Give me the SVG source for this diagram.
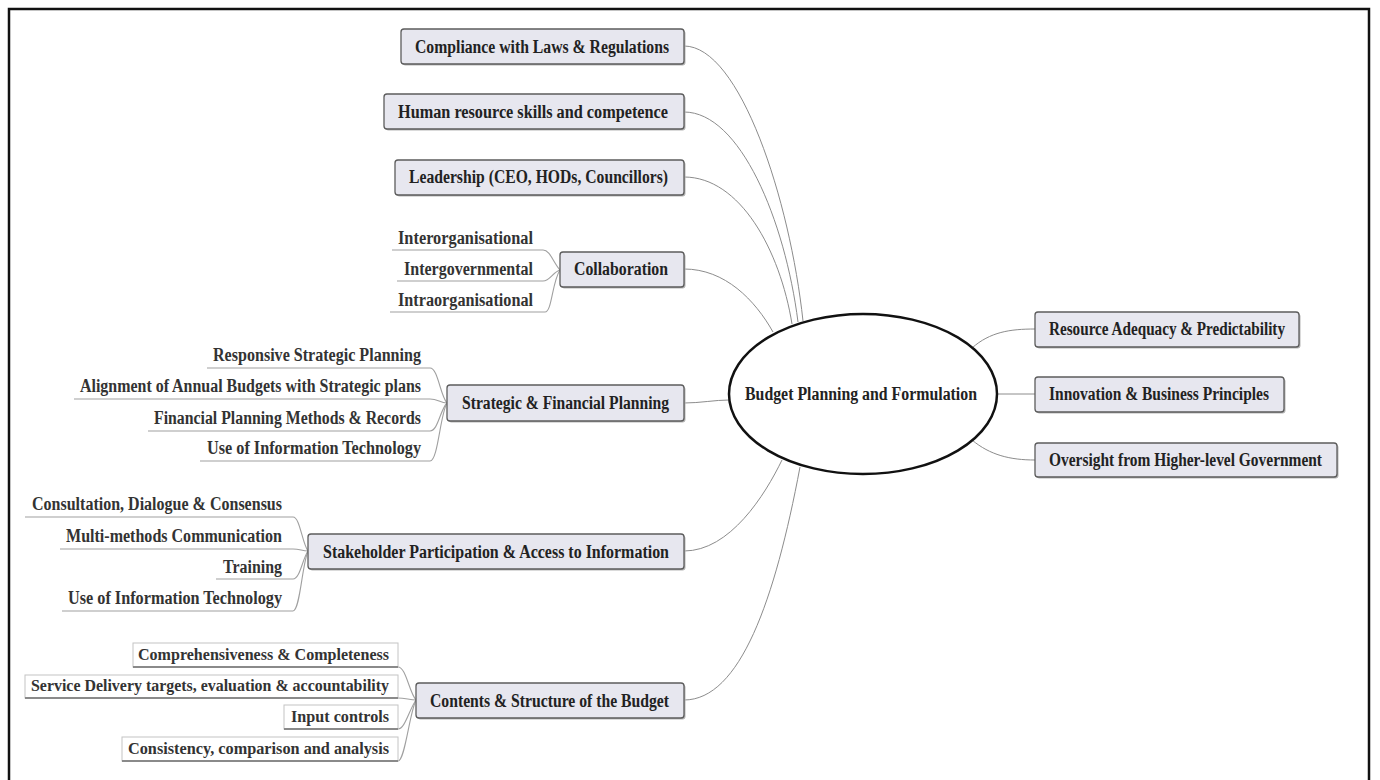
<svg xmlns="http://www.w3.org/2000/svg" width="1380" height="780" viewBox="0 0 1380 780">
<style>
.frame{fill:#fff;stroke:#111;stroke-width:2.5}
.box{fill:#e7e7ef;stroke:#5c5c5c;stroke-width:1.3}
.shd{fill:#b5b5b5}
.sbox{fill:#fff;stroke:#c4c4c4;stroke-width:1}
.sbot{stroke:#8a8a8a;stroke-width:2;fill:none}
.t{font-family:"Liberation Serif","Times New Roman",serif;font-weight:bold;font-size:18px;fill:#222}
.st{font-family:"Liberation Serif","Times New Roman",serif;font-weight:bold;font-size:18px;fill:#333}
.ct{font-family:"Liberation Serif","Times New Roman",serif;font-weight:bold;font-size:17px;fill:#333}
.c{fill:none;stroke:#8c8c8c;stroke-width:1}
.u{fill:none;stroke:#a0a0a0;stroke-width:1.1}
.ell{fill:#fff;stroke:#111;stroke-width:2.5}
</style>
<rect class="frame" x="9" y="9" width="1360" height="800"/>

<g id="connectors">
<path class="c" d="M684 46 C740 46, 790 200, 803 321"/>
<path class="c" d="M684 112 C740 112, 785 220, 798 322"/>
<path class="c" d="M684 177 C740 177, 780 250, 792 324"/>
<path class="c" d="M684 269 C725 269, 755 300, 773 332"/>
<path class="c" d="M684 403 C700 403, 715 400, 729 400"/>
<path class="c" d="M684 551 C730 551, 765 495, 782 460"/>
<path class="c" d="M684 700 C740 700, 775 600, 800 467"/>
<path class="c" d="M972 348 C990 332, 1010 329, 1035 329"/>
<path class="c" d="M997 394 L1035 394"/>
<path class="c" d="M972 440 C990 455, 1010 460, 1035 460"/>
<path class="u" d="M392 250 H543 C550 250, 553 262, 560 270"/>
<path class="u" d="M397 281 H543 C550 281, 553 272, 560 270"/>
<path class="u" d="M390 312 H545 C552 312, 552 282, 560 270"/>
<path class="u" d="M207 368 H430 C438 368, 440 395, 447 403"/>
<path class="u" d="M74 399 H430 C438 399, 440 403, 447 403"/>
<path class="u" d="M148 431 H430 C438 431, 440 410, 447 403"/>
<path class="u" d="M200 461 H430 C438 461, 440 415, 447 403"/>
<path class="u" d="M25 517 H293 C300 517, 302 543, 308 551"/>
<path class="u" d="M60 549 H293 C300 549, 302 551, 308 551"/>
<path class="u" d="M216 579 H293 C300 579, 302 560, 308 551"/>
<path class="u" d="M62 611 H293 C300 611, 302 565, 308 551"/>
<path class="u" d="M398 667 C406 667, 409 692, 416 700"/>
<path class="u" d="M398 698 C405 698, 410 700, 416 700"/>
<path class="u" d="M398 729 C405 729, 409 710, 416 700"/>
<path class="u" d="M398 761 C405 761, 409 715, 416 700"/>
</g>

<g id="center">
<ellipse class="ell" cx="863" cy="394" rx="134" ry="80"/>
<text class="t" x="745" y="400" textLength="232" lengthAdjust="spacingAndGlyphs">Budget Planning and Formulation</text>
</g>

<g id="compliance">
<rect class="shd" x="402.5" y="30.5" width="283" height="35" rx="3"/>
<rect class="box" x="401" y="29" width="283" height="35" rx="3"/>
<text class="t" x="415" y="53" textLength="254" lengthAdjust="spacingAndGlyphs">Compliance with Laws &amp; Regulations</text>
</g>
<g id="human">
<rect class="shd" x="385.5" y="95.5" width="300" height="35" rx="3"/>
<rect class="box" x="384" y="94" width="300" height="35" rx="3"/>
<text class="t" x="398" y="118" textLength="270" lengthAdjust="spacingAndGlyphs">Human resource skills and competence</text>
</g>
<g id="leadership">
<rect class="shd" x="396.5" y="161.5" width="289" height="35" rx="3"/>
<rect class="box" x="395" y="160" width="289" height="35" rx="3"/>
<text class="t" x="409" y="183" textLength="259" lengthAdjust="spacingAndGlyphs">Leadership (CEO, HODs, Councillors)</text>
</g>
<g id="collaboration">
<rect class="shd" x="561.5" y="253.5" width="124" height="35" rx="3"/>
<rect class="box" x="560" y="252" width="124" height="35" rx="3"/>
<text class="t" x="574" y="275" textLength="94" lengthAdjust="spacingAndGlyphs">Collaboration</text>
<text class="st" x="398" y="244" textLength="135" lengthAdjust="spacingAndGlyphs">Interorganisational</text>
<text class="st" x="404" y="275" textLength="129" lengthAdjust="spacingAndGlyphs">Intergovernmental</text>
<text class="st" x="398" y="306" textLength="135" lengthAdjust="spacingAndGlyphs">Intraorganisational</text>
</g>
<g id="strategic">
<rect class="shd" x="448.5" y="386.5" width="237" height="36" rx="3"/>
<rect class="box" x="447" y="385" width="237" height="36" rx="3"/>
<text class="t" x="462" y="409" textLength="207" lengthAdjust="spacingAndGlyphs">Strategic &amp; Financial Planning</text>
<text class="st" x="213" y="361" textLength="208" lengthAdjust="spacingAndGlyphs">Responsive Strategic Planning</text>
<text class="st" x="80" y="392" textLength="341" lengthAdjust="spacingAndGlyphs">Alignment of Annual Budgets with Strategic plans</text>
<text class="st" x="154" y="424" textLength="267" lengthAdjust="spacingAndGlyphs">Financial Planning Methods &amp; Records</text>
<text class="st" x="207" y="454" textLength="214" lengthAdjust="spacingAndGlyphs">Use of Information Technology</text>
</g>
<g id="stakeholder">
<rect class="shd" x="309.5" y="535.5" width="376" height="35" rx="3"/>
<rect class="box" x="308" y="534" width="376" height="35" rx="3"/>
<text class="t" x="323" y="558" textLength="346" lengthAdjust="spacingAndGlyphs">Stakeholder Participation &amp; Access to Information</text>
<text class="st" x="32" y="510" textLength="250" lengthAdjust="spacingAndGlyphs">Consultation, Dialogue &amp; Consensus</text>
<text class="st" x="66" y="542" textLength="216" lengthAdjust="spacingAndGlyphs">Multi-methods Communication</text>
<text class="st" x="223" y="573" textLength="59" lengthAdjust="spacingAndGlyphs">Training</text>
<text class="st" x="68" y="604" textLength="214" lengthAdjust="spacingAndGlyphs">Use of Information Technology</text>
</g>
<g id="contents">
<rect class="shd" x="417.5" y="684.5" width="268" height="35" rx="3"/>
<rect class="box" x="416" y="683" width="268" height="35" rx="3"/>
<text class="t" x="430" y="707" textLength="239" lengthAdjust="spacingAndGlyphs">Contents &amp; Structure of the Budget</text>
<rect class="sbox" x="133" y="643" width="265" height="24"/>
<path class="sbot" d="M133 667 H398"/>
<text class="ct" x="138" y="660" textLength="251" lengthAdjust="spacingAndGlyphs">Comprehensiveness &amp; Completeness</text>
<rect class="sbox" x="25" y="675" width="373" height="23"/>
<path class="sbot" d="M25 698 H398"/>
<text class="ct" x="31" y="691" textLength="358" lengthAdjust="spacingAndGlyphs">Service Delivery targets, evaluation &amp; accountability</text>
<rect class="sbox" x="284" y="705" width="114" height="24"/>
<path class="sbot" d="M284 729 H398"/>
<text class="ct" x="291" y="722" textLength="98" lengthAdjust="spacingAndGlyphs">Input controls</text>
<rect class="sbox" x="122" y="737" width="276" height="24"/>
<path class="sbot" d="M122 761 H398"/>
<text class="ct" x="128" y="754" textLength="261" lengthAdjust="spacingAndGlyphs">Consistency, comparison and analysis</text>
</g>
<g id="resource">
<rect class="shd" x="1036.5" y="313.5" width="264" height="35" rx="3"/>
<rect class="box" x="1035" y="312" width="264" height="35" rx="3"/>
<text class="t" x="1049" y="335" textLength="236" lengthAdjust="spacingAndGlyphs">Resource Adequacy &amp; Predictability</text>
</g>
<g id="innovation">
<rect class="shd" x="1036.5" y="378.5" width="249" height="35" rx="3"/>
<rect class="box" x="1035" y="377" width="249" height="35" rx="3"/>
<text class="t" x="1049" y="400" textLength="220" lengthAdjust="spacingAndGlyphs">Innovation &amp; Business Principles</text>
</g>
<g id="oversight">
<rect class="shd" x="1036.5" y="444.5" width="302" height="34" rx="3"/>
<rect class="box" x="1035" y="443" width="302" height="34" rx="3"/>
<text class="t" x="1049" y="466" textLength="273" lengthAdjust="spacingAndGlyphs">Oversight from Higher-level Government</text>
</g>
</svg>
